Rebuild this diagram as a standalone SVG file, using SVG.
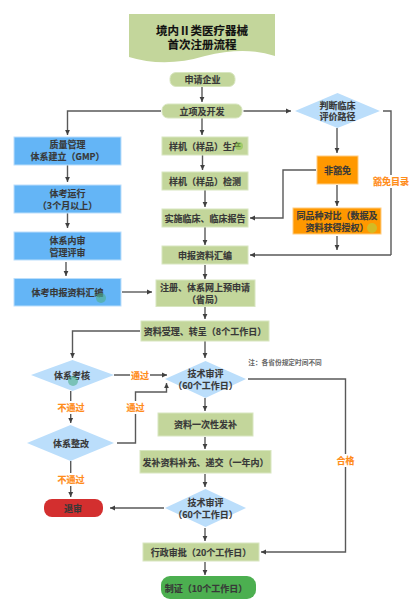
<svg xmlns="http://www.w3.org/2000/svg" width="415" height="609" viewBox="0 0 415 609">
<style>
text{font-family:"Noto Sans CJK SC","Liberation Sans",sans-serif;font-weight:700;font-size:9px;fill:#383838;stroke:#383838;stroke-width:.15;text-anchor:middle}
.g{fill:#C3D69B;stroke:#D8E6C0;stroke-width:1}
.b{fill:#64B5F6;stroke:#BBDEFB;stroke-width:1}
.d{fill:#BBDEFB}
.o{fill:#FF9800;stroke:#FFCC80;stroke-width:1}
text.l{fill:#FF8C1A;stroke:#FF8C1A;stroke-width:.2;font-size:9px}
.c{fill:none;stroke:#595959;stroke-width:1.4;marker-end:url(#a)}
.n{fill:none;stroke:#595959;stroke-width:1.4}
.k{fill:#fff;stroke:none}
</style>
<defs><marker id="a" markerUnits="userSpaceOnUse" markerWidth="6" markerHeight="6" refX="5" refY="3" orient="auto"><path d="M0,0.6L5,3L0,5.4z" fill="#404040"/></marker></defs>
<g id="connectors">
<path class="c" d="M202 87V102"/>
<path class="c" d="M161 111H67.500V135"/>
<path class="c" d="M202 118V135"/>
<path class="c" d="M243.500 111H291"/>
<path class="n" d="M383 111H391V255"/>
<path class="c" d="M391 255H250"/>
<path class="c" d="M337 128V153"/>
<path class="c" d="M316 170H283V218H250"/>
<path class="c" d="M337 185V206"/>
<path class="c" d="M337 236V250"/>
<path class="c" d="M67.500 165V182"/>
<path class="c" d="M67.500 213V228"/>
<path class="c" d="M66 262V276"/>
<path class="c" d="M122 292H152"/>
<path class="c" d="M202.500 155V170"/>
<path class="c" d="M205 190V207"/>
<path class="c" d="M205 227V245"/>
<path class="c" d="M205 265V279"/>
<path class="c" d="M205 307V319"/>
<path class="c" d="M205 341V358"/>
<path class="c" d="M205 398V411"/>
<path class="c" d="M205 437V449"/>
<path class="c" d="M205 474V487"/>
<path class="c" d="M205 528V541"/>
<path class="c" d="M205 562V575"/>
<path class="c" d="M140 331H72.500V358"/>
<path class="c" d="M114 375H167"/>
<path class="c" d="M70.700 391V423"/>
<path class="c" d="M117 443H135.500V392H166.500V383"/>
<path class="c" d="M70.700 461V497"/>
<path class="c" d="M164 508H110"/>
<path class="c" d="M248 379H345.500V552H261"/>
</g>
<g id="title"><path class="g" style="stroke:none" d="M129 14H275V56Q245 46 205 56Q165 68 129 57Z"/><text style="font-size:11.500px;fill:#111;stroke:#111"><tspan x="202" y="34.500">境内Ⅱ类医疗器械</tspan><tspan x="202" y="48.500">首次注册流程</tspan></text></g>
<g id="n1"><rect class="g" x="170" y="72.500" width="65" height="14" rx="6"/><text x="202.500" y="83">申请企业</text></g>
<g id="n2"><rect class="g" x="162" y="104" width="80" height="14" rx="6"/><text x="202" y="114.500">立项及开发</text></g>
<g id="n3"><rect class="b" x="14" y="137" width="107" height="28"/><text x="67.500" y="148">质量管理</text><text x="67.500" y="160">体系建立（GMP）</text></g>
<g id="n4"><rect class="b" x="14" y="185" width="107" height="28"/><text x="67.500" y="197">体考运行</text><text x="67.500" y="208.500">（3个月以上）</text></g>
<g id="n5"><rect class="b" x="14" y="232" width="107" height="28"/><text x="67.500" y="244">体系内审</text><text x="67.500" y="255.500">管理评审</text></g>
<g id="n6"><rect class="b" x="14" y="278.500" width="107" height="27.500"/><text x="67.500" y="295.500">体考申报资料汇编</text><circle cx="101" cy="298" r="5" fill="#4CAF8C" opacity=".6"/></g>
<g id="n7"><rect class="g" x="162" y="137" width="86" height="18"/><text x="205" y="149.500">样机（样品）生产</text><circle cx="239" cy="146" r="4" fill="#8BC34A" opacity=".6"/></g>
<g id="n8"><rect class="g" x="162" y="172" width="86" height="18"/><text x="205" y="184.500">样机（样品）检测</text></g>
<g id="n9"><rect class="g" x="162" y="209" width="86" height="18"/><text x="205" y="221.500">实施临床、临床报告</text></g>
<g id="n10"><rect class="g" x="162" y="246" width="86" height="18"/><text x="205" y="258.500">申报资料汇编</text></g>
<g id="n11"><rect class="g" x="156" y="280" width="99" height="26.500"/><text x="205" y="291">注册、体系网上预申请</text><text x="205" y="302.500">（省局）</text></g>
<g id="n12"><rect class="g" x="141" y="321" width="128" height="20"/><text x="205" y="334.500">资料受理、转呈（8个工作日）</text></g>
<g id="n13"><path class="d" d="M295 111L337.500 93L380 111L337.500 128Z"/><text x="337.500" y="108.500">判断临床</text><text x="337.500" y="120">评价路径</text></g>
<g id="n14"><rect class="o" x="317" y="156" width="41" height="28"/><text x="337.500" y="173.500">非豁免</text></g>
<g id="n15"><rect class="o" x="293" y="208" width="88" height="26"/><text x="337" y="219">同品种对比（数据及</text><text x="337" y="231">资料获得授权）</text><circle cx="372" cy="228" r="5" fill="#C0CA33" opacity=".7"/></g>
<g id="n16"><path class="d" d="M31 375L72.500 360L114 375L72.500 391Z"/><text x="72" y="378.500">体系考核</text><circle cx="73" cy="381" r="5" fill="#4CAF8C" opacity=".6"/></g>
<g id="n17"><path class="d" d="M165 379L205.500 361L246 379L205.500 398Z"/><text x="205.500" y="377">技术审评</text><text x="205.500" y="388.500">（60个工作日）</text></g>
<g id="n18"><path class="d" d="M27 443L70.500 425L114 443L70.500 461Z"/><text x="71" y="446.500">体系整改</text></g>
<g id="n19"><rect class="g" x="158" y="413" width="95" height="23"/><text x="205.500" y="428">资料一次性发补</text></g>
<g id="n20"><rect class="g" x="140" y="450.500" width="131" height="22.500"/><text x="205.500" y="465.500">发补资料补充、递交（一年内）</text></g>
<g id="n21"><path class="d" d="M165 508L205.500 489L246 508L205.500 527Z"/><text x="205.500" y="506">技术审评</text><text x="205.500" y="517.500">（60个工作日）</text></g>
<g id="n22"><rect class="g" x="143" y="543" width="116" height="18"/><text x="201" y="555.500">行政审批（20个工作日）</text></g>
<g id="n23"><rect x="161" y="576" width="95" height="23" rx="9" fill="#4CAF50"/><text x="206" y="591.500">制证（10个工作日）</text></g>
<g id="n24"><rect x="44" y="499" width="59" height="18" rx="8" fill="#D32F2F"/><text x="73" y="511.500">退审</text></g>
<g id="labels">
<rect class="k" x="370" y="175" width="40" height="13"/><text class="l" x="391" y="184.500">豁免目录</text>
<rect class="k" x="130" y="369" width="20" height="13"/><text class="l" x="140" y="379">通过</text>
<rect class="k" x="56" y="401" width="29" height="13"/><text class="l" x="71" y="411">不通过</text>
<rect class="k" x="126" y="401" width="19" height="13"/><text class="l" x="135.500" y="411">通过</text>
<rect class="k" x="56" y="473" width="29" height="13"/><text class="l" x="71" y="483">不通过</text>
<rect class="k" x="336" y="454" width="19" height="13"/><text class="l" x="345.500" y="464">合格</text>
<text x="285" y="365" style="font-size:6.700px;fill:#666;stroke:none">注：各省份规定时间不同</text>
</g>
</svg>
